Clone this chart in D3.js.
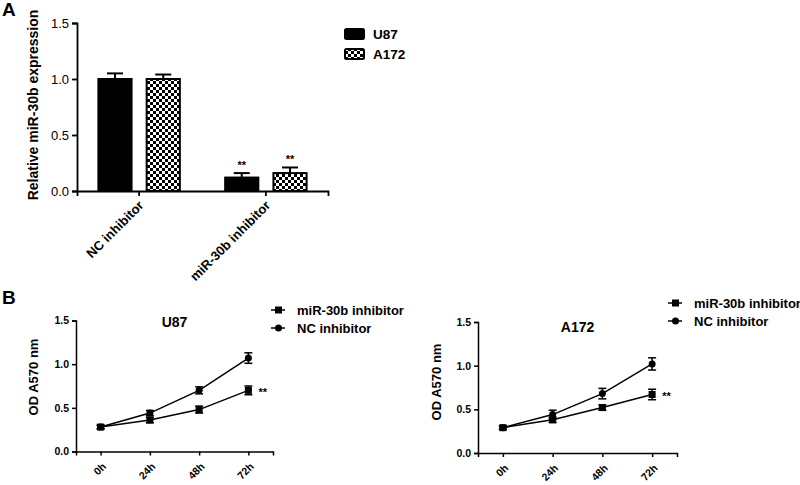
<!DOCTYPE html>
<html>
<head>
<meta charset="utf-8">
<script src="https://cdn.jsdelivr.net/npm/d3@7"></script>
<style>
  body { margin: 0; background: #fff; }
  text { font-family: "Liberation Sans", Arial, sans-serif; }
</style>
</head>
<body>
<svg id="chart" width="800" height="485"></svg>
<script>
// panel A data
var groupsA = ["NC inhibitor", "miR-30b inhibitor"];
var cellsA = ["U87", "A172"];
var u87Expr = [1.0, 0.12];
var u87Err = [0.05, 0.04];
var a172Expr = [1.0, 0.16];
var a172Err = [0.04, 0.05];
var yTicksA = [0, 0.5, 1.0, 1.5];

// panel B data
var hours = ["0h", "24h", "48h", "72h"];
var seriesB = ["miR-30b inhibitor", "NC inhibitor"];
var u87Mir = [0.28, 0.36, 0.48, 0.70];
var u87MirErr = [0.02, 0.03, 0.04, 0.05];
var u87Nc = [0.28, 0.44, 0.70, 1.07];
var u87NcErr = [0.02, 0.03, 0.04, 0.06];
var a172Mir = [0.29, 0.38, 0.52, 0.67];
var a172MirErr = [0.02, 0.03, 0.03, 0.06];
var a172Nc = [0.29, 0.44, 0.68, 1.02];
var a172NcErr = [0.02, 0.05, 0.06, 0.07];
var yTicksB = [0, 0.5, 1.0, 1.5];

var svg = d3.select("#chart");

// checker pattern
var defs = svg.append("defs");
var pat = defs.append("pattern").attr("id", "checker")
    .attr("patternUnits", "userSpaceOnUse")
    .attr("width", 6).attr("height", 6);
pat.append("rect").attr("width", 6).attr("height", 6).attr("fill", "#fff");
pat.append("rect").attr("width", 3).attr("height", 3).attr("fill", "#000");
pat.append("rect").attr("x", 3).attr("y", 3).attr("width", 3).attr("height", 3).attr("fill", "#000");

function fmt(d) { return d3.format(".1f")(d); }

// ---------- Panel A ----------
var yA = d3.scaleLinear().domain([0, 1.5]).range([191, 23]);
var xA = d3.scaleBand().domain(groupsA).range([77, 328]).paddingInner(0.4).paddingOuter(0.19);
var xSub = d3.scaleBand().domain(cellsA).range([-2.7, xA.bandwidth() + 2.7]).paddingInner(0.3125);

svg.append("text").attr("x", 2).attr("y", 16)
    .attr("font-size", 19).attr("font-weight", "bold").text("A");

var gA = svg.append("g");
var dataA = groupsA.map(function(g, i) {
  return [
    {group: g, cell: "U87", v: u87Expr[i], e: u87Err[i]},
    {group: g, cell: "A172", v: a172Expr[i], e: a172Err[i]}
  ];
});
var barW = xSub.bandwidth();
dataA.forEach(function(pair) {
  pair.forEach(function(d) {
    var cx = xA(d.group) + xSub(d.cell) + barW / 2;
    // error bar
    gA.append("line").attr("x1", cx).attr("x2", cx)
      .attr("y1", yA(d.v)).attr("y2", yA(d.v + d.e))
      .attr("stroke", "#000").attr("stroke-width", 2);
    gA.append("line").attr("x1", cx - 8).attr("x2", cx + 8)
      .attr("y1", yA(d.v + d.e)).attr("y2", yA(d.v + d.e))
      .attr("stroke", "#000").attr("stroke-width", 2);
    gA.append("rect")
      .attr("x", cx - barW / 2).attr("y", yA(d.v))
      .attr("width", barW).attr("height", yA(0) - yA(d.v))
      .attr("fill", d.cell == "U87" ? "#000" : "url(#checker)")
      .attr("stroke", "#000").attr("stroke-width", 2);
    if (d.group == "miR-30b inhibitor") {
      gA.append("text").attr("x", cx).attr("y", yA(d.v + d.e) - 4)
        .attr("text-anchor", "middle").attr("font-size", 11).attr("font-weight", "bold")
        .text("**");
    }
  });
});

var axYA = svg.append("g").attr("transform", "translate(77,0)")
    .call(d3.axisLeft(yA).tickValues(yTicksA).tickFormat(fmt).tickSizeOuter(0).tickSize(5));
axYA.selectAll("text").attr("font-size", 13).attr("font-family", "Liberation Sans, Arial");
axYA.selectAll("path,line").attr("stroke-width", 1.8);

var axXA = svg.append("g").attr("transform", "translate(0,191)")
    .call(d3.axisBottom(xA).tickSizeOuter(0).tickSize(5));
axXA.selectAll("path,line").attr("stroke-width", 1.8);
axXA.selectAll("text")
    .attr("font-size", 13).attr("font-weight", "bold").attr("font-family", "Liberation Sans, Arial")
    .attr("text-anchor", "end").attr("dy", "0.35em")
    .attr("transform", "translate(2,12) rotate(-45)")
    .attr("y", 0).attr("x", 0);

svg.append("text")
    .attr("transform", "translate(38,105) rotate(-90)")
    .attr("text-anchor", "middle").attr("font-size", 14).attr("font-weight", "bold")
    .text("Relative miR-30b expression");

// legend A
cellsA.forEach(function(c, i) {
  svg.append("rect").attr("x", 345).attr("y", 29 + i * 20).attr("width", 19).attr("height", 10)
    .attr("rx", 1.5)
    .attr("fill", c == "U87" ? "#000" : "url(#checker)").attr("stroke", "#000").attr("stroke-width", 2);
  svg.append("text").attr("x", 373).attr("y", 39 + i * 20)
    .attr("font-size", 13.5).attr("font-weight", "bold").text(c);
});

// ---------- Panel B ----------
svg.append("text").attr("x", 2).attr("y", 304)
    .attr("font-size", 19).attr("font-weight", "bold").text("B");

function linePanel(opt) {
  var g = svg.append("g");
  var x = d3.scalePoint().domain(hours).range([opt.x0, opt.x1]).padding(0.5);
  var y = d3.scaleLinear().domain([0, 1.5]).range([opt.yBottom, opt.yTop]);

  var ax = g.append("g").attr("transform", "translate(" + opt.x0 + ",0)")
      .call(d3.axisLeft(y).tickValues(yTicksB).tickFormat(fmt).tickSizeOuter(0).tickSize(4));
  ax.selectAll("text").attr("font-size", 10.5).attr("font-weight", "bold").attr("font-family", "Liberation Sans, Arial");
  ax.selectAll("path,line").attr("stroke-width", 1.5);

  var axx = g.append("g").attr("transform", "translate(0," + opt.yBottom + ")")
      .call(d3.axisBottom(x).tickSizeOuter(0).tickSize(4));
  axx.selectAll("path,line").attr("stroke-width", 1.5);
  axx.selectAll("text")
      .attr("font-size", 10.5).attr("font-weight", "bold").attr("font-family", "Liberation Sans, Arial")
      .attr("text-anchor", "end").attr("dy", "0.35em")
      .attr("transform", "translate(3,13) rotate(-45)")
      .attr("y", 0).attr("x", 0);

  var line = d3.line().x(function(d, i) { return x(hours[i]); }).y(function(d) { return y(d); });

  var sets = [
    {vals: opt.mir, err: opt.mirErr, shape: "square"},
    {vals: opt.nc, err: opt.ncErr, shape: "circle"}
  ];
  sets.forEach(function(s) {
    g.append("path").datum(s.vals).attr("d", line)
      .attr("fill", "none").attr("stroke", "#000").attr("stroke-width", 1.5);
    s.vals.forEach(function(v, i) {
      var cx = x(hours[i]);
      g.append("line").attr("x1", cx).attr("x2", cx)
        .attr("y1", y(v - s.err[i])).attr("y2", y(v + s.err[i]))
        .attr("stroke", "#000").attr("stroke-width", 1.5);
      [v - s.err[i], v + s.err[i]].forEach(function(ev) {
        g.append("line").attr("x1", cx - 4).attr("x2", cx + 4)
          .attr("y1", y(ev)).attr("y2", y(ev))
          .attr("stroke", "#000").attr("stroke-width", 1.5);
      });
      if (s.shape == "square") {
        g.append("rect").attr("x", cx - 3.5).attr("y", y(v) - 3.5)
          .attr("width", 7).attr("height", 7).attr("fill", "#000");
      } else {
        g.append("circle").attr("cx", cx).attr("cy", y(v)).attr("r", 3.5).attr("fill", "#000");
      }
    });
  });

  g.append("text").attr("x", x("72h") + 10).attr("y", y(opt.mir[3]) + 6)
    .attr("font-size", 11).attr("font-weight", "bold").text("**");

  g.append("text").attr("x", (x("0h") + x("72h")) / 2).attr("y", opt.titleY)
    .attr("text-anchor", "middle").attr("font-size", 14).attr("font-weight", "bold")
    .text(opt.title);

  g.append("text")
    .attr("transform", "translate(" + opt.labelX + "," + opt.labelY + ") rotate(-90)")
    .attr("text-anchor", "middle").attr("font-size", 13).attr("font-weight", "bold")
    .text("OD A570 nm");

  seriesB.forEach(function(name, i) {
    var ly = opt.legY + i * 18;
    g.append("line").attr("x1", opt.legX).attr("x2", opt.legX + 14)
      .attr("y1", ly).attr("y2", ly).attr("stroke", "#000").attr("stroke-width", 1.5);
    if (i == 0) {
      g.append("rect").attr("x", opt.legX + 4).attr("y", ly - 3.5).attr("width", 7).attr("height", 7).attr("fill", "#000");
    } else {
      g.append("circle").attr("cx", opt.legX + 7.5).attr("cy", ly).attr("r", 3.5).attr("fill", "#000");
    }
    g.append("text").attr("x", opt.legX + 26).attr("y", ly + 5)
      .attr("font-size", 13).attr("font-weight", "bold").text(name);
  });
}

linePanel({x0: 76, x1: 273, yTop: 320.5, yBottom: 451.5, mir: u87Mir, mirErr: u87MirErr,
  nc: u87Nc, ncErr: u87NcErr, title: "U87", titleY: 327, labelX: 38, labelY: 377, legX: 271, legY: 310});
linePanel({x0: 478, x1: 677, yTop: 322, yBottom: 453, mir: a172Mir, mirErr: a172MirErr,
  nc: a172Nc, ncErr: a172NcErr, title: "A172", titleY: 332, labelX: 441, labelY: 382, legX: 668, legY: 303});
</script>
</body>
</html>
